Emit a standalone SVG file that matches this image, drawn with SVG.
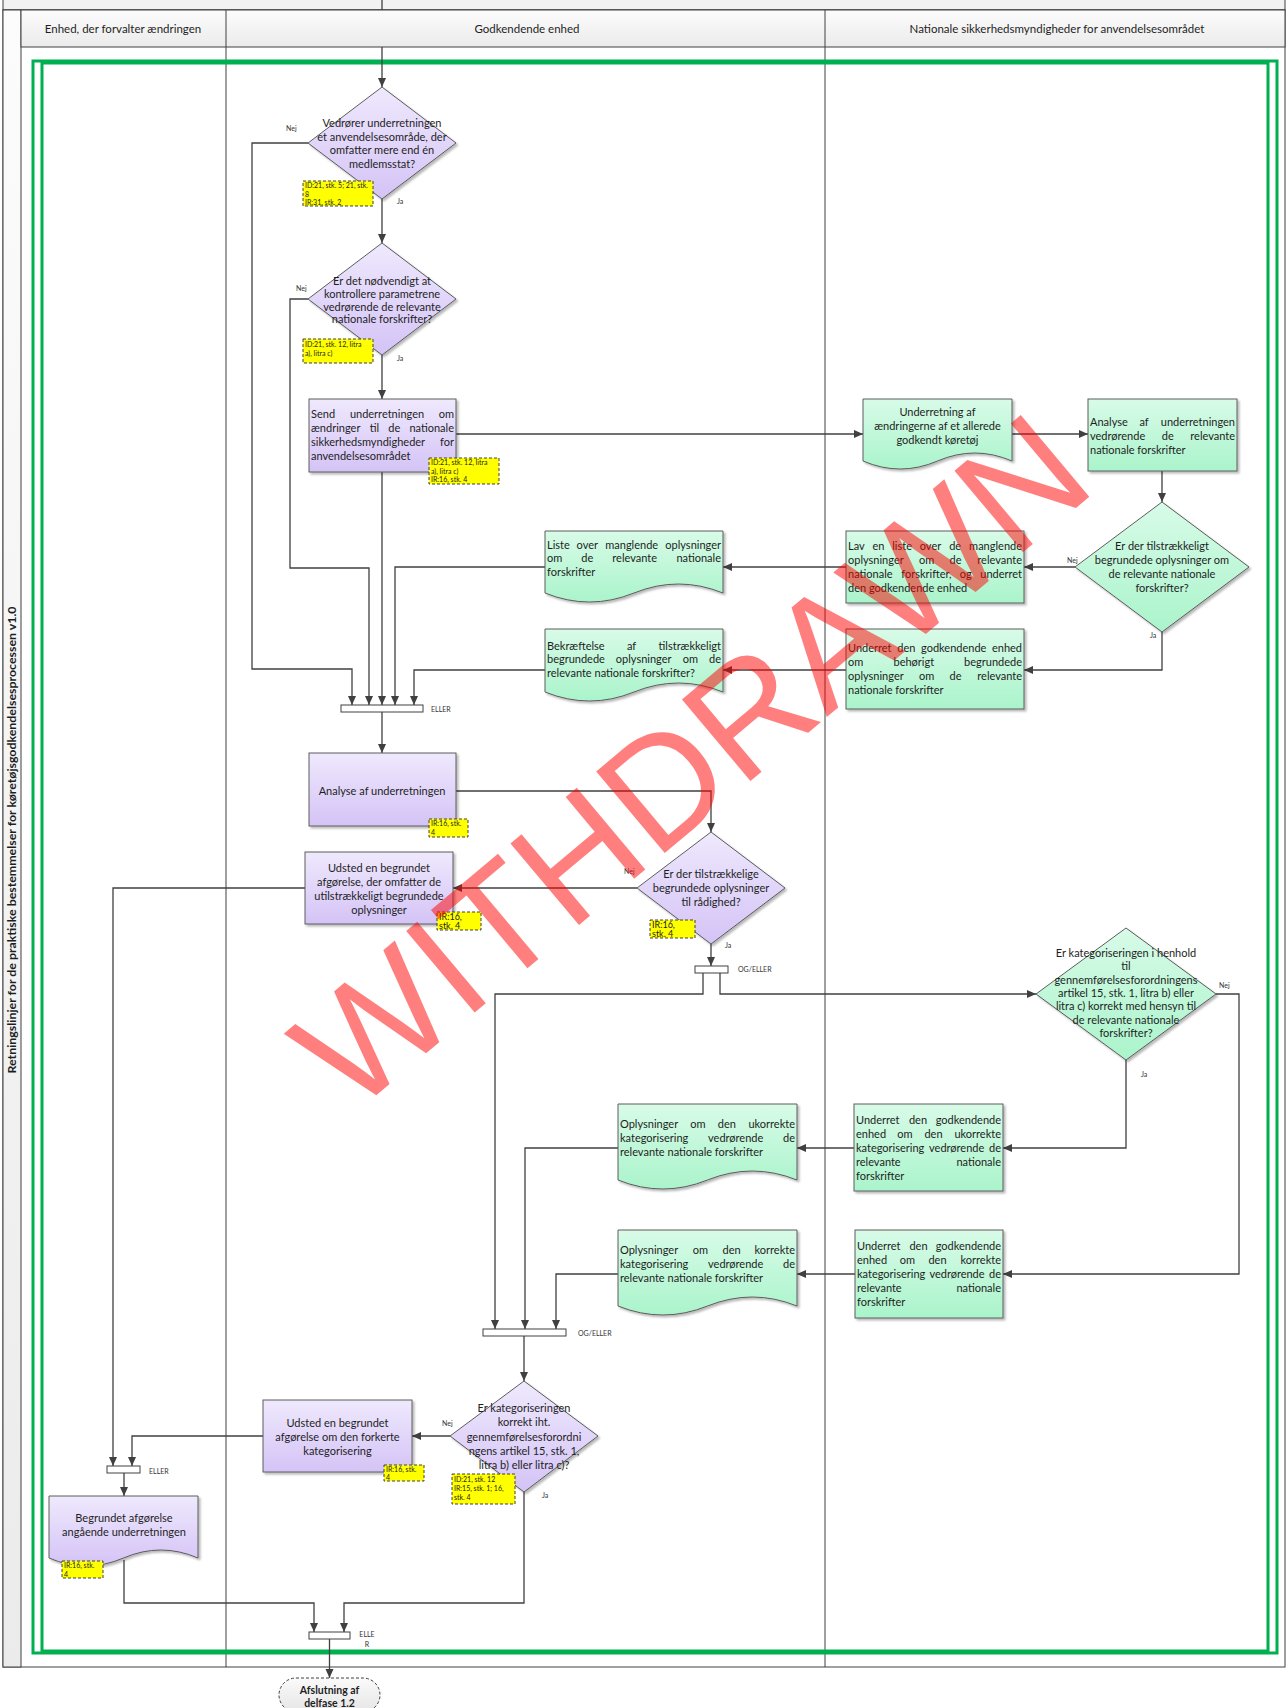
<svg xmlns="http://www.w3.org/2000/svg" width="1287" height="1708" viewBox="0 0 1287 1708">
<defs>
<linearGradient id="gp" x1="0" y1="0" x2="0" y2="1"><stop offset="0" stop-color="#efe9fd"/><stop offset="1" stop-color="#d4c3f6"/></linearGradient>
<linearGradient id="gg" x1="0" y1="0" x2="0" y2="1"><stop offset="0" stop-color="#d8fbe8"/><stop offset="1" stop-color="#aaf4cb"/></linearGradient>
<linearGradient id="hg" x1="0" y1="0" x2="0" y2="1"><stop offset="0" stop-color="#fcfcfc"/><stop offset="1" stop-color="#ebebeb"/></linearGradient>
<linearGradient id="tg" x1="0" y1="0" x2="0" y2="1"><stop offset="0" stop-color="#fafafa"/><stop offset="1" stop-color="#e6e6e6"/></linearGradient>
<filter id="sh" x="-10%" y="-10%" width="130%" height="130%"><feDropShadow dx="2" dy="2" stdDeviation="1.2" flood-color="#000" flood-opacity="0.28"/></filter>
<marker id="ar" markerUnits="userSpaceOnUse" markerWidth="10" markerHeight="9" refX="9" refY="4" orient="auto"><path d="M0,0 L9,4 L0,8 z" fill="#404040"/></marker>
<style>
.ln{fill:none;stroke:#404040;stroke-width:1.3;marker-end:url(#ar)}
.pu{fill:url(#gp);stroke:#5c5c5c;stroke-width:1;filter:url(#sh)}
.gr{fill:url(#gg);stroke:#5c5c5c;stroke-width:1;filter:url(#sh)}
.note{fill:#ffff00;stroke:#404040;stroke-width:1;stroke-dasharray:3 2}
.bar{fill:#fff;stroke:#404040;stroke-width:1}
text{font-family:Lato,"Liberation Sans",sans-serif;fill:#1e1e1e}
.t{font-size:11px}
.c{text-anchor:middle}
.m{text-anchor:middle}
.e{text-anchor:end}
.n{font-size:7px}
.n9{font-size:9px}
.l{font-size:7px;fill:#333}
.h{font-size:11.5px;text-anchor:middle}
.wm{font-family:"Liberation Sans",sans-serif;font-size:155px;text-anchor:middle;fill:#ff0000;fill-opacity:0.5}
</style>
</defs>
<rect width="1287" height="1708" fill="#fff"/>
<g id="pool">
<rect x="3" y="-1" width="1282" height="11" fill="#f2f2f2" stroke="#404040"/>
<rect x="3" y="10" width="1282" height="1657" fill="#fff" stroke="#404040"/>
<line x1="226" y1="10" x2="226" y2="1667" stroke="#404040"/>
<line x1="825" y1="10" x2="825" y2="1667" stroke="#404040"/>
</g>
<g id="frame" fill="none" stroke="#00b050" stroke-width="3">
<rect x="33" y="61" width="1244" height="1592"/>
<rect x="42" y="63" width="1226" height="1588"/>
</g>
<g id="connectors">
<path class="ln" d="M382,0 V87"/>
<path class="ln" d="M308,143 H252 V669 H352 V705"/>
<path class="ln" d="M382,199 V243"/>
<path class="ln" d="M308,299 H290 V568 H369 V705"/>
<path class="ln" d="M382,355 V399"/>
<path class="ln" d="M382,472 V705"/>
<path class="ln" d="M456,434 H863"/>
<path class="ln" d="M1012,434 H1088"/>
<path class="ln" d="M1162,471 V502"/>
<path class="ln" d="M1075,567 H1024"/>
<path class="ln" d="M1162,632 V670 H1024"/>
<path class="ln" d="M846,567 H723"/>
<path class="ln" d="M846,670 H723"/>
<path class="ln" d="M545,567 H395 V705"/>
<path class="ln" d="M545,670 H414 V705"/>
<path class="ln" d="M382,712 V753"/>
<path class="ln" d="M456,791 H711 V832"/>
<path class="ln" d="M637,888 H453"/>
<path class="ln" d="M711,944 V966"/>
<path class="ln" d="M703,973 V994 H495 V1329"/>
<path class="ln" d="M720,973 V994 H1036"/>
<path class="ln" d="M1216,994 H1239 V1274 H1003"/>
<path class="ln" d="M1126,1060 V1148 H1003"/>
<path class="ln" d="M854,1148 H797"/>
<path class="ln" d="M855,1274 H797"/>
<path class="ln" d="M618,1148 H525 V1329"/>
<path class="ln" d="M618,1274 H556 V1329"/>
<path class="ln" d="M524,1336 V1381"/>
<path class="ln" d="M450,1436 H412"/>
<path class="ln" d="M263,1436 H132 V1466"/>
<path class="ln" d="M305,888 H113 V1466"/>
<path class="ln" d="M124,1473 V1496"/>
<path class="ln" d="M124,1560 V1603 H314 V1632"/>
<path class="ln" d="M524,1492 V1603 H344 V1632"/>
<path class="ln" d="M329.5,1639 V1678"/>
</g>
<g id="labels">
<text class="l" x="286" y="131">Nej</text>
<text class="l" x="397" y="204">Ja</text>
<text class="l" x="296" y="291">Nej</text>
<text class="l" x="397" y="361">Ja</text>
<text class="l" x="1067" y="563">Nej</text>
<text class="l" x="1150" y="638">Ja</text>
<text class="l" x="431" y="712">ELLER</text>
<text class="l" x="624" y="874">Nej</text>
<text class="l" x="725" y="948">Ja</text>
<text class="l" x="738" y="972">OG/ELLER</text>
<text class="l" x="1219" y="988">Nej</text>
<text class="l" x="1141" y="1077">Ja</text>
<text class="l" x="578" y="1336">OG/ELLER</text>
<text class="l" x="442" y="1426">Nej</text>
<text class="l" x="542" y="1498">Ja</text>
<text class="l" x="149" y="1474">ELLER</text>
<text class="l c" x="367" y="1637">ELLE</text>
<text class="l c" x="367" y="1647">R</text>
</g>
<g id="d1">
<path class="pu" d="M382,87 L456,143 L382,199 L308,143 Z"/>
<text class="t c" x="382" y="127">Vedrører underretningen</text>
<text class="t c" x="382" y="140.5">et anvendelsesområde, der</text>
<text class="t c" x="382" y="154">omfatter mere end én</text>
<text class="t c" x="382" y="167.5">medlemsstat?</text>
<rect class="note" x="303" y="181" width="70" height="25"/>
<text class="n" x="305" y="188">ID:21, stk. 5; 21, stk.</text>
<text class="n" x="305" y="196.5">8</text>
<text class="n" x="305" y="205">IR:31, stk. 2</text>
</g>
<g id="d2">
<path class="pu" d="M382,243 L456,299 L382,355 L308,299 Z"/>
<text class="t c" x="382" y="285">Er det nødvendigt at</text>
<text class="t c" x="382" y="298">kontrollere parametrene</text>
<text class="t c" x="382" y="311">vedrørende de relevante</text>
<text class="t c" x="382" y="323">nationale forskrifter?</text>
<rect class="note" x="303" y="339" width="70" height="24"/>
<text class="n" x="305" y="347">ID:21, stk. 12, litra</text>
<text class="n" x="305" y="356">a), litra c)</text>
</g>
<g id="send">
<rect class="pu" x="309" y="399" width="147" height="73"/>
<text class="t" y="418"><tspan x="311">Send</tspan><tspan x="387" class="m">underretningen</tspan><tspan x="454" class="e">om</tspan></text>
<text class="t" y="432"><tspan x="311">ændringer</tspan><tspan x="374.5" class="m">til</tspan><tspan x="394.3" class="m">de</tspan><tspan x="454" class="e">nationale</tspan></text>
<text class="t" y="446"><tspan x="311">sikkerhedsmyndigheder</tspan><tspan x="454" class="e">for</tspan></text>
<text class="t" x="311" y="460">anvendelsesområdet</text>
<rect class="note" x="429" y="458" width="70" height="26"/>
<text class="n" x="431" y="465">ID:21, stk. 12, litra</text>
<text class="n" x="431" y="473.5">a), litra c)</text>
<text class="n" x="431" y="482">IR:16, stk. 4</text>
</g>
<g id="underretning">
<path class="gr" d="M863,399 H1012 V461 Q974.75,445 937.5,461 T863,461 Z"/>
<text class="t c" x="937.5" y="416">Underretning af</text>
<text class="t c" x="937.5" y="430">ændringerne af et allerede</text>
<text class="t c" x="937.5" y="444">godkendt køretøj</text>
</g>
<g id="analyse-nsa">
<rect class="gr" x="1088" y="399" width="149" height="72"/>
<text class="t" y="426"><tspan x="1090">Analyse</tspan><tspan x="1144" class="m">af</tspan><tspan x="1235" class="e">underretningen</tspan></text>
<text class="t" y="440"><tspan x="1090">vedrørende</tspan><tspan x="1167.8" class="m">de</tspan><tspan x="1235" class="e">relevante</tspan></text>
<text class="t" x="1090" y="454">nationale forskrifter</text>
</g>
<g id="d3">
<path class="gr" d="M1162,502 L1249,567 L1162,632 L1075,567 Z"/>
<text class="t c" x="1162" y="550">Er der tilstrækkeligt</text>
<text class="t c" x="1162" y="564">begrundede oplysninger om</text>
<text class="t c" x="1162" y="578">de relevante nationale</text>
<text class="t c" x="1162" y="592">forskrifter?</text>
</g>
<g id="lav">
<rect class="gr" x="846" y="531" width="178" height="72"/>
<text class="t" y="550"><tspan x="848">Lav</tspan><tspan x="878.4" class="m">en</tspan><tspan x="902.1" class="m">liste</tspan><tspan x="930.5" class="m">over</tspan><tspan x="955.2" class="m">de</tspan><tspan x="1022" class="e">manglende</tspan></text>
<text class="t" y="564"><tspan x="848">oplysninger</tspan><tspan x="926.7" class="m">om</tspan><tspan x="955.6" class="m">de</tspan><tspan x="1022" class="e">relevante</tspan></text>
<text class="t" y="578"><tspan x="848">nationale</tspan><tspan x="926.4" class="m">forskrifter,</tspan><tspan x="965.8" class="m">og</tspan><tspan x="1022" class="e">underret</tspan></text>
<text class="t" x="848" y="592">den godkendende enhed</text>
</g>
<g id="underret-behoerigt">
<rect class="gr" x="846" y="629" width="178" height="80"/>
<text class="t" y="652"><tspan x="848">Underret</tspan><tspan x="906.4" class="m">den</tspan><tspan x="953.7" class="m">godkendende</tspan><tspan x="1022" class="e">enhed</tspan></text>
<text class="t" y="666"><tspan x="848">om</tspan><tspan x="913.8" class="m">behørigt</tspan><tspan x="1022" class="e">begrundede</tspan></text>
<text class="t" y="680"><tspan x="848">oplysninger</tspan><tspan x="926.7" class="m">om</tspan><tspan x="955.6" class="m">de</tspan><tspan x="1022" class="e">relevante</tspan></text>
<text class="t" x="848" y="694">nationale forskrifter</text>
</g>
<g id="liste">
<path class="gr" d="M545,531 H723 V593 Q678.5,575 634,593 T545,593 Z"/>
<text class="t" y="549"><tspan x="547">Liste</tspan><tspan x="587.3" class="m">over</tspan><tspan x="631.7" class="m">manglende</tspan><tspan x="721" class="e">oplysninger</tspan></text>
<text class="t" y="562"><tspan x="547">om</tspan><tspan x="587.3" class="m">de</tspan><tspan x="634.7" class="m">relevante</tspan><tspan x="721" class="e">nationale</tspan></text>
<text class="t" x="547" y="576">forskrifter</text>
</g>
<g id="bekraeftelse">
<path class="gr" d="M545,629 H723 V692 Q678.5,674 634,692 T545,692 Z"/>
<text class="t" y="650"><tspan x="547">Bekræftelse</tspan><tspan x="631.5" class="m">af</tspan><tspan x="721" class="e">tilstrækkeligt</tspan></text>
<text class="t" y="663"><tspan x="547">begrundede</tspan><tspan x="643.7" class="m">oplysninger</tspan><tspan x="690.4" class="m">om</tspan><tspan x="721" class="e">de</tspan></text>
<text class="t" x="547" y="677">relevante nationale forskrifter?</text>
</g>
<g id="bar-eller-1">
<rect class="bar" x="341" y="705" width="82" height="7"/>
</g>
<g id="analyse">
<rect class="pu" x="309" y="753" width="147" height="73"/>
<text class="t c" x="382" y="795">Analyse af underretningen</text>
<rect class="note" x="429" y="819" width="39" height="18"/>
<text class="n" x="431" y="826">IR:16, stk.</text>
<text class="n" x="431" y="835">4</text>
</g>
<g id="d4">
<path class="pu" d="M711,832 L785,888 L711,944 L637,888 Z"/>
<text class="t c" x="711" y="878">Er der tilstrækkelige</text>
<text class="t c" x="711" y="892">begrundede oplysninger</text>
<text class="t c" x="711" y="906">til rådighed?</text>
<rect class="note" x="650" y="920" width="45" height="18"/>
<text class="n9" x="652" y="928">IR:16,</text>
<text class="n9" x="652" y="937">stk. 4</text>
</g>
<g id="udsted-1">
<rect class="pu" x="305" y="852" width="148" height="72"/>
<text class="t c" x="379" y="872">Udsted en begrundet</text>
<text class="t c" x="379" y="886">afgørelse, der omfatter de</text>
<text class="t c" x="379" y="900">utilstrækkeligt begrundede</text>
<text class="t c" x="379" y="914">oplysninger</text>
<rect class="note" x="437" y="912" width="44" height="18"/>
<text class="n9" x="439" y="920">IR:16,</text>
<text class="n9" x="439" y="929">stk. 4</text>
</g>
<g id="bar-ogeller-1">
<rect class="bar" x="695" y="966" width="33" height="7"/>
</g>
<g id="d6">
<path class="gr" d="M1126,928 L1216,994 L1126,1060 L1036,994 Z"/>
<text class="t c" x="1126" y="957">Er kategoriseringen i henhold</text>
<text class="t c" x="1126" y="970.3">til</text>
<text class="t c" x="1126" y="983.6">gennemførelsesforordningens</text>
<text class="t c" x="1126" y="997">artikel 15, stk. 1, litra b) eller</text>
<text class="t c" x="1126" y="1010.3">litra c) korrekt med hensyn til</text>
<text class="t c" x="1126" y="1023.6">de relevante nationale</text>
<text class="t c" x="1126" y="1037">forskrifter?</text>
</g>
<g id="underret-ukorrekt">
<rect class="gr" x="854" y="1104" width="149" height="87"/>
<text class="t" y="1124"><tspan x="856">Underret</tspan><tspan x="918" class="m">den</tspan><tspan x="1001" class="e">godkendende</tspan></text>
<text class="t" y="1138"><tspan x="856">enhed</tspan><tspan x="905" class="m">om</tspan><tspan x="933.5" class="m">den</tspan><tspan x="1001" class="e">ukorrekte</tspan></text>
<text class="t" y="1152"><tspan x="856">kategorisering</tspan><tspan x="956.7" class="m">vedrørende</tspan><tspan x="1001" class="e">de</tspan></text>
<text class="t" y="1166"><tspan x="856">relevante</tspan><tspan x="1001" class="e">nationale</tspan></text>
<text class="t" x="856" y="1180">forskrifter</text>
</g>
<g id="underret-korrekt">
<rect class="gr" x="855" y="1230" width="148" height="88"/>
<text class="t" y="1250"><tspan x="857">Underret</tspan><tspan x="918.5" class="m">den</tspan><tspan x="1001" class="e">godkendende</tspan></text>
<text class="t" y="1264"><tspan x="857">enhed</tspan><tspan x="907.5" class="m">om</tspan><tspan x="937.5" class="m">den</tspan><tspan x="1001" class="e">korrekte</tspan></text>
<text class="t" y="1278"><tspan x="857">kategorisering</tspan><tspan x="957" class="m">vedrørende</tspan><tspan x="1001" class="e">de</tspan></text>
<text class="t" y="1292"><tspan x="857">relevante</tspan><tspan x="1001" class="e">nationale</tspan></text>
<text class="t" x="857" y="1306">forskrifter</text>
</g>
<g id="oplysninger-ukorrekt">
<path class="gr" d="M618,1104 H797 V1180 Q752.25,1162 707.5,1180 T618,1180 Z"/>
<text class="t" y="1128"><tspan x="620">Oplysninger</tspan><tspan x="697.9" class="m">om</tspan><tspan x="726.8" class="m">den</tspan><tspan x="795" class="e">ukorrekte</tspan></text>
<text class="t" y="1142"><tspan x="620">kategorisering</tspan><tspan x="735.7" class="m">vedrørende</tspan><tspan x="795" class="e">de</tspan></text>
<text class="t" x="620" y="1156">relevante nationale forskrifter</text>
</g>
<g id="oplysninger-korrekt">
<path class="gr" d="M618,1230 H797 V1306 Q752.25,1288 707.5,1306 T618,1306 Z"/>
<text class="t" y="1254"><tspan x="620">Oplysninger</tspan><tspan x="700.3" class="m">om</tspan><tspan x="731.6" class="m">den</tspan><tspan x="795" class="e">korrekte</tspan></text>
<text class="t" y="1268"><tspan x="620">kategorisering</tspan><tspan x="735.7" class="m">vedrørende</tspan><tspan x="795" class="e">de</tspan></text>
<text class="t" x="620" y="1282">relevante nationale forskrifter</text>
</g>
<g id="bar-ogeller-2">
<rect class="bar" x="483" y="1329" width="83" height="7"/>
</g>
<g id="d5">
<path class="pu" d="M524,1381 L598,1436 L524,1492 L450,1436 Z"/>
<text class="t c" x="524" y="1412">Er kategoriseringen</text>
<text class="t c" x="524" y="1426">korrekt iht.</text>
<text class="t c" x="524" y="1441">gennemførelsesforordni</text>
<text class="t c" x="524" y="1455">ngens artikel 15, stk. 1,</text>
<text class="t c" x="524" y="1469">litra b) eller litra c)?</text>
<rect class="note" x="452" y="1474" width="63" height="30"/>
<text class="n" x="454" y="1482">ID:21, stk. 12</text>
<text class="n" x="454" y="1491">IR:15, stk. 1; 16,</text>
<text class="n" x="454" y="1500">stk. 4</text>
</g>
<g id="udsted-2">
<rect class="pu" x="263" y="1400" width="149" height="72"/>
<text class="t c" x="337.5" y="1427">Udsted en begrundet</text>
<text class="t c" x="337.5" y="1441">afgørelse om den forkerte</text>
<text class="t c" x="337.5" y="1455">kategorisering</text>
<rect class="note" x="384" y="1465" width="40" height="16"/>
<text class="n" x="386" y="1472">IR:16, stk.</text>
<text class="n" x="386" y="1480">4</text>
</g>
<g id="bar-eller-3">
<rect class="bar" x="107" y="1466" width="33" height="7"/>
</g>
<g id="begrundet">
<path class="pu" d="M49,1496 H198 V1558 Q160.75,1542 123.5,1558 T49,1558 Z"/>
<text class="t c" x="124" y="1522">Begrundet afgørelse</text>
<text class="t c" x="124" y="1536">angående underretningen</text>
<rect class="note" x="62" y="1561" width="41" height="17"/>
<text class="n" x="64" y="1568">IR:16, stk.</text>
<text class="n" x="64" y="1577">4</text>
</g>
<g id="bar-eller-4">
<rect class="bar" x="309" y="1632" width="41" height="7"/>
</g>
<g id="header">
<rect x="3" y="10" width="18" height="1657" fill="url(#hg)" stroke="#404040"/>
<rect x="21" y="10" width="1264" height="37" fill="url(#hg)" stroke="#404040"/>
<line x1="226" y1="10" x2="226" y2="47" stroke="#404040"/>
<line x1="825" y1="10" x2="825" y2="47" stroke="#404040"/>
<text class="h" x="123" y="33">Enhed, der forvalter ændringen</text>
<text class="h" x="527" y="33">Godkendende enhed</text>
<text class="h" x="1057" y="33">Nationale sikkerhedsmyndigheder for anvendelsesområdet</text>
<text transform="translate(16,840) rotate(-90)" text-anchor="middle" font-size="11" font-weight="bold" textLength="467" lengthAdjust="spacingAndGlyphs">Retningslinjer for de praktiske bestemmelser for køretøjsgodkendelsesprocessen v1.0</text>
</g>
<g id="terminal">
<rect x="279" y="1678" width="101" height="34" rx="17" fill="url(#tg)" stroke="#404040" stroke-dasharray="3 2"/>
<text class="c" x="329.5" y="1694" font-size="10.5" font-weight="bold">Afslutning af</text>
<text class="c" x="329.5" y="1707" font-size="10.5" font-weight="bold">delfase 1.2</text>
</g>
<g id="watermark">
<text class="wm" transform="translate(690,760) rotate(-40)" x="0" y="55">WITHDRAWN</text>
</g>
</svg>
